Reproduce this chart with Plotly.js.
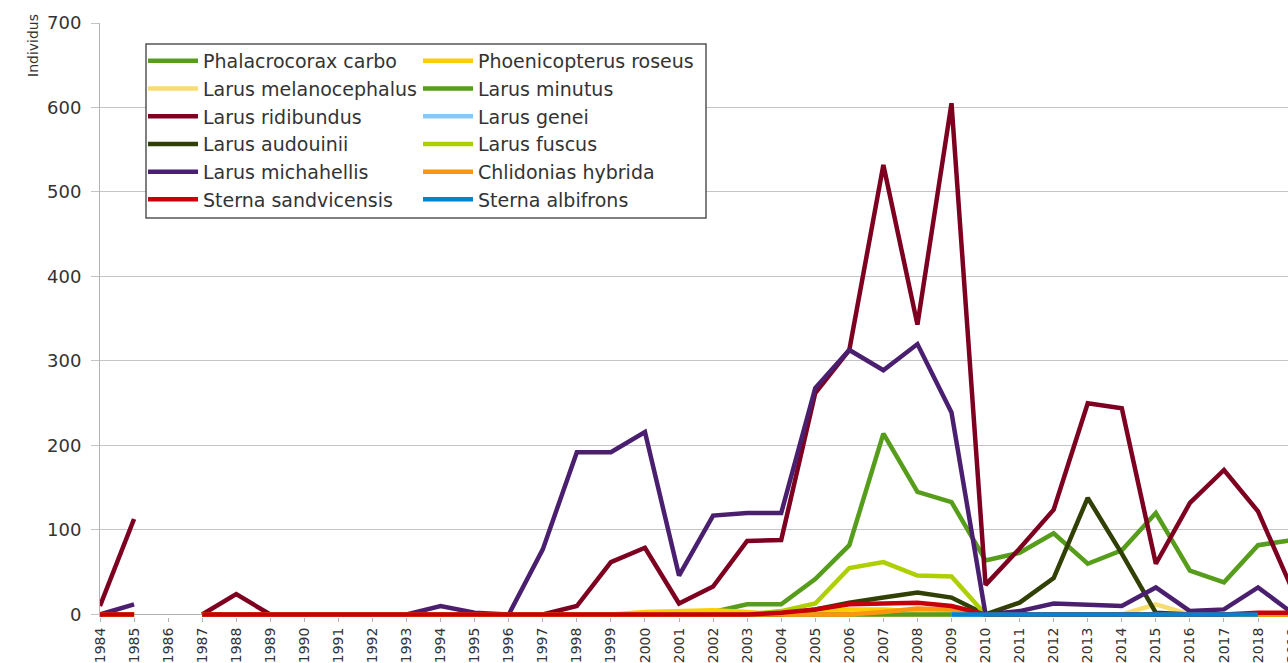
<!DOCTYPE html>
<html>
<head>
<meta charset="utf-8">
<script src="https://cdn.plot.ly/plotly-3.0.1.min.js"></script>
<style>
html, body { margin: 0; padding: 0; overflow: hidden; background: #fff; }
#chart { width: 1320px; height: 663px; }
</style>
</head>
<body>
<div id="chart"></div>
<script>
// Years (categories)
const years = ['1984','1985','1986','1987','1988','1989','1990','1991','1992','1993','1994','1995','1996','1997','1998','1999','2000','2001','2002','2003','2004','2005','2006','2007','2008','2009','2010','2011','2012','2013','2014','2015','2016','2017','2018','2019'];

// Series values, 1984 .. 2019 (null = no data)
const phalacrocoraxCarbo   = [0,0,null,0,0,0,0,0,0,0,0,0,0,0,0,0,0,0,3,12,12,42,82,214,145,133,64,73,96,60,76,120,52,38,82,88];
const phoenicopterusRoseus = [0,0,null,0,0,0,0,0,0,0,0,0,0,0,0,0,3,4,5,3,0,3,6,6,4,2,0,0,0,0,0,0,0,0,0,0];
const larusMelanocephalus  = [0,0,null,0,0,0,0,0,0,0,0,0,0,0,0,0,0,0,0,0,0,0,0,0,0,0,0,0,0,0,0,12,0,0,0,0];
const larusMinutus         = [0,0,null,0,0,0,0,0,0,0,0,0,0,0,0,0,0,0,0,0,0,0,0,0,0,0,0,0,0,0,0,0,0,0,0,0];
const larusRidibundus      = [10,113,null,0,24,0,0,0,0,0,0,0,0,0,10,62,79,13,33,87,88,262,313,532,343,605,35,78,124,250,244,60,132,171,122,30];
const larusGenei           = [null,null,null,null,null,null,null,null,null,null,null,null,null,null,null,null,null,null,null,null,null,null,null,null,null,0,0,0,0,0,0,0,0,0,0,null];
const larusAudouinii       = [0,0,null,0,0,0,0,0,0,0,0,0,0,0,0,0,0,0,0,0,0,6,14,20,26,20,0,14,43,138,72,2,0,0,0,0];
const larusFuscus          = [0,0,null,0,0,0,0,0,0,0,0,0,0,0,0,0,0,0,0,0,4,13,55,62,46,45,0,0,0,0,0,0,0,0,0,0];
const larusMichahellis     = [0,12,null,0,0,0,0,0,0,0,10,2,0,77,192,192,216,46,117,120,120,268,313,289,320,239,0,4,13,11,10,32,4,6,32,2];
const chlidoniasHybrida    = [0,0,null,0,0,0,0,0,0,0,0,0,0,0,0,0,0,0,0,0,0,0,0,3,7,6,0,0,0,0,0,0,0,0,0,0];
const sternaSandvicensis   = [0,0,null,0,0,0,0,0,0,0,0,0,0,0,0,0,0,0,0,0,2,6,12,13,14,10,0,0,0,0,0,0,0,0,2,2];
const sternaAlbifrons      = [null,null,null,null,null,null,null,null,null,null,null,null,null,null,null,null,null,null,null,null,null,null,null,null,null,0,0,0,0,0,0,0,0,0,0,null];

const seriesNames = ['Phalacrocorax carbo','Phoenicopterus roseus','Larus melanocephalus','Larus minutus','Larus ridibundus','Larus genei','Larus audouinii','Larus fuscus','Larus michahellis','Chlidonias hybrida','Sterna sandvicensis','Sterna albifrons'];
const seriesValues = [phalacrocoraxCarbo, phoenicopterusRoseus, larusMelanocephalus, larusMinutus, larusRidibundus, larusGenei, larusAudouinii, larusFuscus, larusMichahellis, chlidoniasHybrida, sternaSandvicensis, sternaAlbifrons];
const seriesColors = ['#579d1c','#ffcc00','#f7dc6f','#579d1c','#7e0021','#83caff','#314004','#aecf00','#4b1f6f','#ff950e','#c5000b','#0084d1'];

const traces = seriesNames.map((name, i) => ({
  type: 'scatter',
  mode: 'lines',
  name: name,
  x: years,
  y: seriesValues[i],
  connectgaps: false,
  line: { color: seriesColors[i], width: 4.5 },
  legend: (i % 2 === 0) ? 'legend' : 'legend2'
}));

// geometry helpers (pixels -> paper)
const L = 100, T = 23, B = 46, W = 1320, R = 10, H = 663;
const plotW = W - L - R, plotH = H - T - B;
const px = v => (v - L) / plotW;
const py = v => (H - B - v) / plotH;
const pxPerCat = 34.06;

const legendFont = { family: 'DejaVu Sans, sans-serif', size: 19, color: '#333333' };

const layout = {
  width: W,
  height: H,
  margin: { l: L, r: R, t: T, b: B, pad: 0 },
  paper_bgcolor: '#ffffff',
  plot_bgcolor: '#ffffff',
  font: { family: 'DejaVu Sans, sans-serif', color: '#333333' },
  showlegend: true,
  xaxis: {
    type: 'category',
    categoryorder: 'array',
    categoryarray: years,
    range: [0, plotW / pxPerCat],
    showgrid: false,
    showline: false,
    ticks: 'outside',
    ticklen: 4,
    tickcolor: '#b3b3b3',
    tickangle: -90,
    tickfont: { family: 'DejaVu Sans, sans-serif', size: 14, color: '#333333' },
    zeroline: false,
    fixedrange: true
  },
  yaxis: {
    range: [-3, 700],
    tickvals: [0, 100, 200, 300, 400, 500, 600, 700],
    showgrid: true,
    gridcolor: '#c4c4c4',
    gridwidth: 1,
    showline: true,
    linecolor: '#b3b3b3',
    ticks: 'outside',
    ticklen: 8,
    tickcolor: '#c4c4c4',
    ticklabelstandoff: 6,
    tickfont: { family: 'DejaVu Sans, sans-serif', size: 18, color: '#333333' },
    zeroline: true,
    zerolinecolor: '#b3b3b3',
    zerolinewidth: 1,
    fixedrange: true
  },
  legend: {
    x: px(143), y: py(42), xanchor: 'left', yanchor: 'top',
    orientation: 'v', traceorder: 'normal',
    bgcolor: 'rgba(0,0,0,0)', borderwidth: 0,
    itemwidth: 50, font: legendFont
  },
  legend2: {
    x: px(418), y: py(42), xanchor: 'left', yanchor: 'top',
    orientation: 'v', traceorder: 'normal',
    bgcolor: 'rgba(0,0,0,0)', borderwidth: 0,
    itemwidth: 50, font: legendFont
  },
  shapes: [{
    type: 'rect', xref: 'paper', yref: 'paper',
    x0: px(146), x1: px(706), y0: py(218), y1: py(44),
    line: { color: '#555555', width: 1.5 },
    fillcolor: '#ffffff',
    layer: 'above'
  }],
  annotations: [{
    text: 'Individus',
    xref: 'paper', yref: 'paper',
    x: px(33), y: py(46),
    xanchor: 'center', yanchor: 'middle',
    textangle: -90,
    showarrow: false,
    font: { family: 'DejaVu Sans, sans-serif', size: 14, color: '#333333' }
  }]
};

Plotly.newPlot('chart', traces, layout, { displayModeBar: false, staticPlot: true });
</script>
</body>
</html>
